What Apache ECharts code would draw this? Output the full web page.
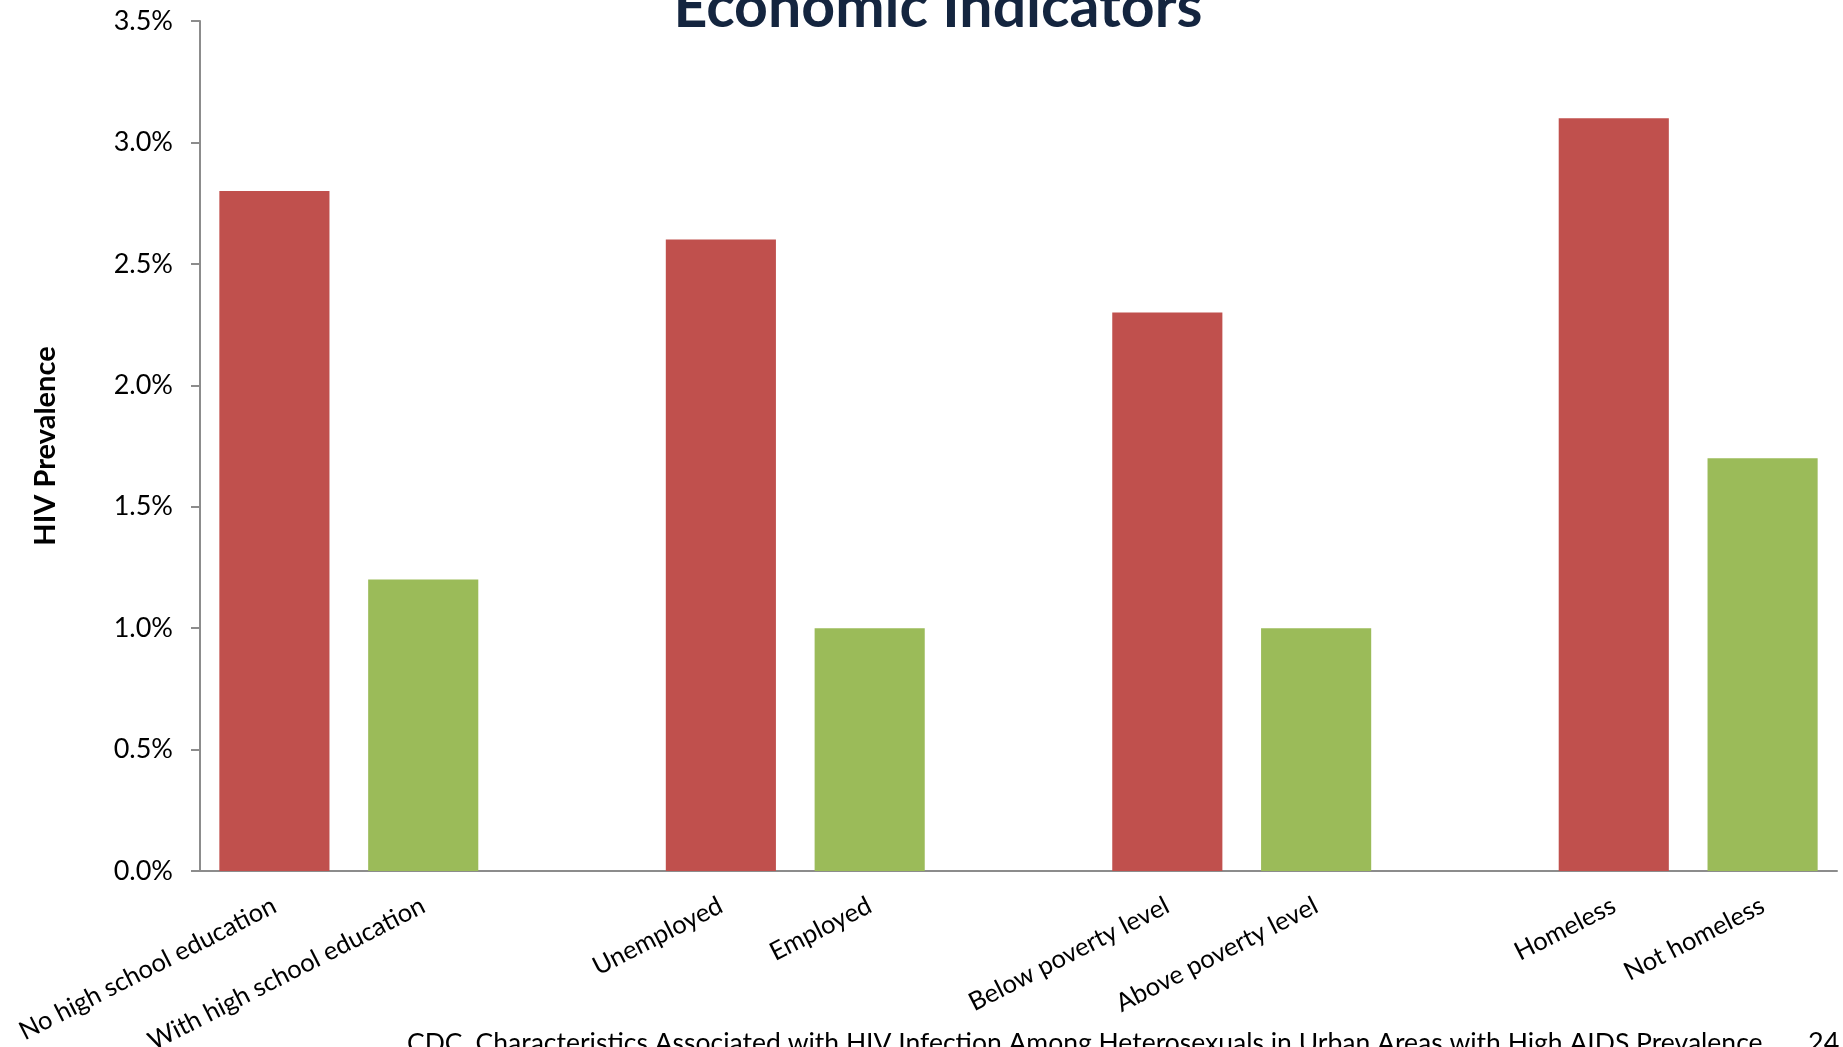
<!DOCTYPE html>
<html>
<head>
<meta charset="utf-8">
<script src="https://cdn.jsdelivr.net/npm/echarts@6/dist/echarts.min.js"></script>
<style>
  html, body { margin: 0; padding: 0; background: #fff; }
  #chart { width: 1843px; height: 1047px; }
</style>
</head>
<body>
<div id="chart"></div>
<script>
// categories, with empty slots between the pairs
const categories = [
  'No high school education', 'With high school education', '',
  'Unemployed', 'Employed', '',
  'Below poverty level', 'Above poverty level', '',
  'Homeless', 'Not homeless'
];
// HIV prevalence in percent ('-' = gap)
const prevalence = [2.8, 1.2, '-', 2.6, 1.0, '-', 2.3, 1.0, '-', 3.1, 1.7];
// which group each bar belongs to: at risk (red) or not (green)
const group = ['risk', 'ok', '', 'risk', 'ok', '', 'risk', 'ok', '', 'risk', 'ok'];
const yTicks = [0, 0.5, 1.0, 1.5, 2.0, 2.5, 3.0, 3.5];

const colors = { risk: '#C0504D', ok: '#9BBB59' };
const font = 'Lato';

const option = {
  textStyle: { fontFamily: font },
  title: {
    text: 'Economic Indicators',
    left: 933,
    top: -27,
    textAlign: 'center',
    textStyle: {
      fontFamily: font,
      fontSize: 59,
      fontWeight: 'bold',
      color: '#14253F'
    }
  },
  grid: {
    left: 200,
    right: 6,
    top: 21,
    bottom: 176,
    outerBoundsMode: 'none'
  },
  xAxis: {
    type: 'category',
    data: categories,
    axisLine: { lineStyle: { color: '#8C8C8C', width: 2 } },
    axisTick: { length: 9, lineStyle: { color: '#8C8C8C', width: 2 } },
    axisLabel: {
      interval: 0,
      rotate: 27,
      margin: 33,
      fontSize: 25.5,
      color: '#000'
    }
  },
  yAxis: {
    type: 'value',
    min: yTicks[0],
    max: yTicks[yTicks.length - 1],
    interval: 0.5,
    name: 'HIV Prevalence',
    nameLocation: 'middle',
    nameGap: 140,
    nameTextStyle: {
      fontSize: 29,
      fontWeight: 'bold',
      color: '#000'
    },
    splitLine: { show: false },
    axisLine: { show: true, lineStyle: { color: '#8C8C8C', width: 2 } },
    axisTick: { show: true, length: 9, lineStyle: { color: '#8C8C8C', width: 2 } },
    axisLabel: {
      margin: 27,
      fontSize: 27,
      color: '#000',
      formatter: function(v) {
        return v.toFixed(1) + '%';
      }
    }
  },
  graphic: [{
    type: 'text',
    left: 407,
    top: 1030,
    style: {
      text: 'CDC. Characteristics Associated with HIV Infection Among Heterosexuals in Urban Areas with High AIDS Prevalence',
      font: '26.5px ' + font,
      fill: '#000'
    }
  }, {
    type: 'text',
    left: 1808,
    top: 1030,
    style: {
      text: '24',
      font: '27px ' + font,
      fill: '#000'
    }
  }],
  series: [{
    type: 'bar',
    barWidth: '74%',
    silent: true,
    data: prevalence.map(function(v, i) {
      return {
        value: v,
        itemStyle: { color: colors[group[i]] || '#fff' }
      };
    })
  }]
};

const chart = echarts.init(document.getElementById('chart'));
chart.setOption(option);
</script>
</body>
</html>
